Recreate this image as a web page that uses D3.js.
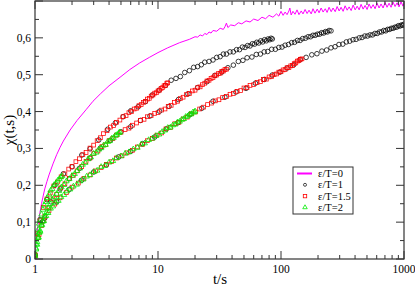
<!DOCTYPE html>
<html>
<head>
<meta charset="utf-8">
<script src="https://cdn.jsdelivr.net/npm/d3@7"></script>
<style>
html, body { margin: 0; padding: 0; background: #fff; }
svg { display: block; }
</style>
</head>
<body>
<svg id="chart" width="415" height="286"></svg>
<script>
// axis setup
var xDomain = [1, 1000];
var yDomain = [0, 0.7];
var xTitle = 't/s';
var yTitle = 'χ(t,s)';
var legendLabels = ['ε/T=0', 'ε/T=1', 'ε/T=1.5', 'ε/T=2'];

// eps/T = 0 (line)
var lineEps0 = [[1.00,0.0],[1.01,0.025],[1.02,0.045],[1.04,0.072],[1.06,0.094],[1.08,0.112],[1.1,0.128],
  [1.13,0.15],[1.16,0.168],[1.2,0.19],[1.25,0.21],[1.3,0.228],[1.4,0.258],[1.5,0.283],[1.6,0.303],
  [1.7,0.32],[1.93,0.35],[2.2,0.376],[2.6,0.405],[2.96,0.428],[3.4,0.448],[4,0.47],[5,0.495],
  [5.9,0.514],[7.1,0.532],[8.5,0.547],[10,0.56],[12,0.573],[15,0.587],[18,0.596],[20,0.603],
  [21,0.602],[22,0.608],[23,0.605],[24,0.612],[25,0.609],[26,0.616],[27,0.613],[28,0.62],[30,0.618],
  [32,0.626],[34,0.623],[35,0.63],[36,0.64],[37,0.628],[39,0.635],[42,0.633],[45,0.641],[48,0.638],
  [52,0.646],[56,0.643],[60,0.651],[65,0.647],[70,0.656],[75,0.652],[80,0.661],[86,0.656],[92,0.665],
  [96,0.659],[100,0.672],[104,0.661],[108,0.67],[112,0.663],[116,0.673],[118,0.681],[121,0.662],
  [125,0.672],[130,0.664],[135,0.676],[140,0.663],[146,0.673],[151,0.665],[157,0.677],[163,0.666],
  [169,0.675],[176,0.665],[182,0.679],[189,0.667],[197,0.678],[204,0.668],[212,0.681],[220,0.67],
  [229,0.679],[237,0.669],[246,0.683],[256,0.671],[265,0.681],[276,0.671],[286,0.685],[297,0.673],
  [308,0.683],[320,0.672],[332,0.687],[345,0.675],[358,0.684],[372,0.674],[386,0.689],[401,0.676],
  [416,0.686],[432,0.676],[448,0.691],[465,0.678],[483,0.688],[501,0.677],[520,0.692],[540,0.68],
  [561,0.69],[582,0.679],[604,0.694],[627,0.681],[651,0.692],[676,0.681],[702,0.696],[728,0.683],
  [756,0.694],[785,0.683],[815,0.697],[846,0.685],[878,0.695],[911,0.684],[946,0.698],[982,0.686],
  [1000,0.695]];

// eps/T = 1 (circles), three runs
var circlesA = [[1.0,0.012],[1.1,0.107],[1.25,0.161],[1.45,0.2],[1.7,0.231],[2.0,0.25],[2.4,0.282],
  [2.8,0.299],[3.3,0.323],[3.9,0.352],[4.5,0.369],[5.2,0.386],[6.0,0.402],[6.9,0.413],[7.9,0.427],
  [9,0.445],[10.2,0.458],[11.5,0.471],[12.8,0.485],[14,0.49],[15.2,0.495],[16.5,0.506],[18,0.511],
  [19.5,0.52],[21,0.522],[22.5,0.527],[24,0.534],[26,0.536],[28,0.54],[30,0.547],[32,0.549],
  [34,0.556],[36,0.556],[38.5,0.562],[41,0.562],[43.5,0.568],[46,0.568],[48.5,0.575],[51,0.574],
  [53.5,0.579],[56,0.578],[58.5,0.584],[61,0.583],[63.5,0.588],[66,0.586],[68.5,0.592],[71,0.589],
  [73.5,0.595],[76,0.592],[78.5,0.597],[81,0.595],[83,0.599],[85,0.597]];
var circlesB = [[1.0,0.01],[1.15,0.101],[1.35,0.155],[1.6,0.19],[1.9,0.218],[2.3,0.246],[2.8,0.274],
  [3.4,0.301],[4.1,0.322],[5,0.345],[6,0.359],[7.2,0.376],[8.6,0.388],[10.3,0.401],[12.3,0.414],
  [14.7,0.433],[17.5,0.448],[21,0.465],[25,0.481],[29,0.498],[33,0.507],[37,0.519],[41,0.526],
  [45,0.536],[49,0.539],[53,0.546],[58,0.548],[63,0.555],[68,0.556],[73,0.562],[78,0.563],[84,0.569],
  [90,0.569],[96,0.574],[102,0.575],[108,0.58],[115,0.582],[122,0.587],[129,0.588],[136,0.593],
  [143,0.593],[150,0.598],[158,0.599],[166,0.603],[174,0.603],[182,0.607],[190,0.607],[198,0.61],
  [206,0.61],[214,0.614],[222,0.613],[230,0.617],[238,0.616],[246,0.62],[255,0.619]];
var circlesC = [[1.0,0.008],[1.2,0.111],[1.5,0.155],[1.9,0.189],[2.4,0.214],[3.0,0.236],[3.8,0.255],
  [4.8,0.277],[6,0.292],[7.5,0.313],[9.4,0.331],[11.7,0.353],[14.6,0.37],[18.2,0.392],[22.7,0.409],
  [28,0.428],[35,0.439],[43,0.453],[52,0.463],[62,0.477],[73,0.487],[85,0.499],[98,0.507],[112,0.518],
  [127,0.527],[143,0.541],[160,0.547],[178,0.554],[196,0.557],[215,0.564],[235,0.567],[255,0.573],
  [275,0.576],[296,0.582],[318,0.583],[340,0.589],[362,0.591],[385,0.595],[408,0.596],[432,0.6],
  [456,0.601],[480,0.605],[505,0.605],[530,0.608],[555,0.608],[580,0.612],[606,0.612],[632,0.616],
  [658,0.616],[684,0.62],[710,0.619],[737,0.623],[764,0.623],[791,0.626],[818,0.626],[845,0.629],
  [872,0.629],[900,0.633],[927,0.632],[954,0.635],[980,0.634],[1000,0.637]];

// eps/T = 1.5 (squares), three runs
var squaresA = [[1.0,0.012],[1.05,0.07],[1.1,0.104],[1.17,0.14],[1.25,0.163],[1.33,0.179],[1.42,0.198],
  [1.52,0.209],[1.63,0.223],[1.75,0.231],[1.88,0.244],[2.0,0.251],[2.15,0.264],[2.3,0.272],[2.45,0.283],
  [2.6,0.289],[2.8,0.301],[3.0,0.309],[3.2,0.321],[3.4,0.329],[3.6,0.34],[3.85,0.348],[4.1,0.358],
  [4.35,0.362],[4.6,0.371],[4.9,0.377],[5.2,0.386],[5.5,0.389],[5.8,0.397],[6.1,0.4],[6.4,0.407],
  [6.7,0.409],[7.0,0.416],[7.3,0.419],[7.6,0.425],[7.9,0.428],[8.2,0.434],[8.5,0.436],[8.8,0.442],
  [9.1,0.445],[9.4,0.45],[9.7,0.451],[10,0.456],[10.3,0.458],[10.6,0.463],[10.9,0.465],[11.2,0.47],
  [11.5,0.471],[11.8,0.477],[12,0.478]];
var squaresB = [[1.0,0.01],[1.06,0.058],[1.13,0.091],[1.2,0.116],[1.3,0.139],[1.4,0.163],[1.5,0.175],
  [1.62,0.193],[1.75,0.204],[1.9,0.219],[2.05,0.227],[2.2,0.239],[2.4,0.251],[2.6,0.265],[2.8,0.274],
  [3.0,0.286],[3.25,0.293],[3.5,0.305],[3.75,0.31],[4.0,0.321],[4.3,0.327],[4.6,0.336],[5.0,0.344],
  [5.4,0.351],[5.8,0.355],[6.2,0.363],[6.7,0.369],[7.2,0.376],[7.7,0.379],[8.2,0.386],[8.8,0.389],
  [9.4,0.395],[10,0.397],[10.7,0.404],[11.4,0.407],[12.1,0.414],[12.8,0.417],[13.6,0.425],[14.4,0.428],
  [15.2,0.435],[16,0.439],[17,0.446],[18,0.449],[19,0.456],[20,0.458],[21,0.465],[22,0.467],[23,0.473],
  [24,0.477],[25,0.483],[26,0.485],[27,0.49],[28,0.492],[29,0.497],[30,0.499],[31,0.503],[32,0.504],
  [33,0.509],[34,0.51],[35,0.514],[36,0.515]];
var squaresC = [[1.0,0.008],[1.08,0.066],[1.18,0.104],[1.3,0.131],[1.45,0.149],[1.6,0.166],[1.8,0.18],
  [2.0,0.195],[2.25,0.206],[2.5,0.219],[2.8,0.228],[3.1,0.239],[3.45,0.248],[3.8,0.257],[4.2,0.264],
  [4.6,0.274],[5.1,0.28],[5.6,0.288],[6.2,0.295],[6.8,0.304],[7.5,0.311],[8.2,0.321],[9,0.327],
  [9.8,0.336],[10.7,0.342],[11.6,0.353],[12.6,0.357],[13.7,0.367],[14.8,0.371],[16,0.38],[17.3,0.385],
  [18.7,0.394],[20.2,0.399],[21.8,0.407],[23.5,0.412],[25.3,0.419],[27.2,0.423],[29.2,0.429],
  [31.3,0.432],[33.5,0.438],[36,0.441],[38.5,0.447],[41,0.449],[44,0.455],[47,0.457],[50,0.464],
  [53,0.465],[56,0.471],[60,0.473],[64,0.479],[68,0.481],[72,0.487],[76,0.488],[80,0.494],[84,0.495],
  [88,0.5],[92,0.502],[96,0.507],[100,0.508],[104,0.513],[108,0.514],[112,0.519],[116,0.519],
  [120,0.524],[124,0.525],[128,0.53],[132,0.532],[136,0.537],[140,0.538],[144,0.542],[148,0.543]];

// eps/T = 2 (triangles), three runs
var trianglesA = [[1.0,0.015],[1.02,0.04],[1.04,0.064],[1.06,0.08],[1.08,0.096],[1.10,0.105],
  [1.13,0.121],[1.16,0.134],[1.19,0.146],[1.22,0.155],[1.26,0.166],[1.30,0.175],[1.34,0.186],
  [1.38,0.19],[1.43,0.201],[1.48,0.205],[1.53,0.213],[1.58,0.217],[1.62,0.222],[1.66,0.225]];
var trianglesB = [[1.0,0.01],[1.02,0.029],[1.04,0.046],[1.06,0.057],[1.08,0.071],[1.1,0.077],[1.13,0.091],
  [1.16,0.102],[1.2,0.116],[1.24,0.126],[1.28,0.138],[1.33,0.149],[1.38,0.161],[1.44,0.168],
  [1.5,0.177],[1.57,0.185],[1.64,0.195],[1.72,0.201],[1.8,0.211],[1.9,0.217],[2.0,0.226],[2.1,0.231],
  [2.2,0.239],[2.32,0.246],[2.44,0.256],[2.56,0.261],[2.7,0.271],[2.84,0.276],[3.0,0.286],[3.15,0.289],
  [3.3,0.297],[3.45,0.301],[3.6,0.308],[3.75,0.31],[3.9,0.318],[4.05,0.32],[4.2,0.327],[4.35,0.329],
  [4.5,0.335],[4.65,0.337],[4.8,0.342],[4.9,0.344]];
var trianglesC = [[1.0,0.008],[1.02,0.026],[1.04,0.039],[1.07,0.059],[1.1,0.074],[1.14,0.093],
  [1.18,0.103],[1.23,0.117],[1.28,0.125],[1.34,0.137],[1.4,0.143],[1.47,0.153],[1.55,0.158],[1.63,0.168],
  [1.72,0.174],[1.82,0.184],[1.93,0.189],[2.05,0.197],[2.18,0.202],[2.32,0.211],[2.47,0.216],
  [2.63,0.224],[2.8,0.228],[3.0,0.236],[3.2,0.24],[3.45,0.25],[3.7,0.253],[4.0,0.262],[4.3,0.266],
  [4.6,0.274],[5.0,0.279],[5.4,0.286],[5.8,0.29],[6.3,0.298],[6.8,0.302],[7.3,0.311],[7.8,0.314],
  [8.4,0.323],[9.0,0.327],[9.6,0.334],[10.2,0.338],[10.8,0.345],[11.4,0.349],[12,0.356],[12.6,0.357],
  [13.2,0.363],[13.8,0.365],[14.4,0.371],[15,0.373],[15.6,0.378],[16.2,0.38],[16.8,0.386],
  [17.4,0.387],[18,0.392],[18.6,0.393],[19.2,0.398],[19.7,0.398],[20,0.401]];

var svg = d3.select('#chart');
var plotLeft = 35, plotRight = 404, plotTop = 1, plotBottom = 259;
var serif = "'Liberation Serif', 'Times New Roman', Times, 'DejaVu Serif', serif";

var x = d3.scaleLog().domain(xDomain).range([plotLeft, plotRight]);
var y = d3.scaleLinear().domain(yDomain).range([plotBottom, plotTop]);

var axisColor = '#333';
var comma = d3.formatLocale({decimal: ',', thousands: '.', grouping: [3], currency: ['', '']}).format('.1f');

// clip for data
svg.append('clipPath').attr('id', 'plot-clip')
  .append('rect').attr('x', plotLeft).attr('y', plotTop)
  .attr('width', plotRight - plotLeft).attr('height', plotBottom - plotTop);

var plot = svg.append('g').attr('clip-path', 'url(#plot-clip)');

// eps/T=0 line
plot.append('path')
  .datum(lineEps0)
  .attr('fill', 'none')
  .attr('stroke', '#ff00ff')
  .attr('stroke-width', 1)
  .attr('d', d3.line().x(function(d) { return x(d[0]); }).y(function(d) { return y(d[1]); }));

// markers
function drawCircles(data) {
  plot.append('g').selectAll('circle').data(data).enter().append('circle')
    .attr('cx', function(d) { return x(d[0]); })
    .attr('cy', function(d) { return y(d[1]); })
    .attr('r', 2.3)
    .attr('fill', 'none')
    .attr('stroke', '#000')
    .attr('stroke-width', 0.75);
}
function drawSquares(data) {
  plot.append('g').selectAll('rect').data(data).enter().append('rect')
    .attr('x', function(d) { return x(d[0]) - 1.9; })
    .attr('y', function(d) { return y(d[1]) - 1.9; })
    .attr('width', 3.8).attr('height', 3.8)
    .attr('fill', 'none')
    .attr('stroke', '#ff0000')
    .attr('stroke-width', 0.75);
}
var tri = d3.symbol().type(d3.symbolTriangle).size(13);
function drawTriangles(data) {
  plot.append('g').selectAll('path').data(data).enter().append('path')
    .attr('transform', function(d) { return 'translate(' + x(d[0]) + ',' + y(d[1]) + ')'; })
    .attr('d', tri)
    .attr('fill', 'none')
    .attr('stroke', '#00ee00')
    .attr('stroke-width', 0.8);
}

[circlesA, circlesB, circlesC].forEach(drawCircles);
[squaresA, squaresB, squaresC].forEach(drawSquares);
[trianglesA, trianglesB, trianglesC].forEach(drawTriangles);

// frame
svg.append('rect')
  .attr('x', plotLeft).attr('y', plotTop)
  .attr('width', plotRight - plotLeft).attr('height', plotBottom - plotTop)
  .attr('fill', 'none').attr('stroke', axisColor).attr('stroke-width', 1.2);

var ticks = svg.append('g').attr('stroke', axisColor).attr('stroke-width', 1);

// x ticks (bottom and top)
x.ticks().forEach(function(t) {
  var major = Math.abs(Math.log10(t) - Math.round(Math.log10(t))) < 1e-9;
  var len = major ? 8 : 4;
  ticks.append('line').attr('x1', x(t)).attr('x2', x(t)).attr('y1', plotBottom).attr('y2', plotBottom - len);
  ticks.append('line').attr('x1', x(t)).attr('x2', x(t)).attr('y1', plotTop).attr('y2', plotTop + len);
  if (major) {
    svg.append('text').attr('x', x(t)).attr('y', 273)
      .attr('text-anchor', 'middle').attr('font-family', serif).attr('font-size', 11.5).attr('fill', '#000')
      .text(d3.format('d')(t));
  }
});

// y ticks (left and right)
y.ticks(14).forEach(function(v) {
  var major = Math.abs(v * 10 - Math.round(v * 10)) < 1e-6;
  var len = major ? 8 : 4;
  ticks.append('line').attr('x1', plotLeft).attr('x2', plotLeft + len).attr('y1', y(v)).attr('y2', y(v));
  ticks.append('line').attr('x1', plotRight).attr('x2', plotRight - len).attr('y1', y(v)).attr('y2', y(v));
  if (major && v < 0.65) {
    svg.append('text').attr('x', 31).attr('y', y(v) + 4)
      .attr('text-anchor', 'end').attr('font-family', serif).attr('font-size', 11.5).attr('fill', '#000')
      .text(v === 0 ? '0' : comma(v));
  }
});

// axis titles
svg.append('text').attr('x', 220).attr('y', 284)
  .attr('text-anchor', 'middle').attr('font-family', serif).attr('font-size', 15).attr('fill', '#000')
  .text(xTitle);
svg.append('text').attr('transform', 'translate(14,130) rotate(-90)')
  .attr('text-anchor', 'middle').attr('font-family', serif).attr('font-size', 15).attr('fill', '#000')
  .text(yTitle);

// legend
var lg = svg.append('g').attr('transform', 'translate(293,167)');
lg.append('rect').attr('width', 60).attr('height', 47)
  .attr('fill', '#fff').attr('stroke', axisColor).attr('stroke-width', 1);
var rowY = function(i) { return 6.5 + i * 11.3; };
lg.append('line').attr('x1', 4).attr('x2', 19).attr('y1', rowY(0)).attr('y2', rowY(0))
  .attr('stroke', '#ff00ff').attr('stroke-width', 2);
lg.append('circle').attr('cx', 12).attr('cy', rowY(1)).attr('r', 1.5)
  .attr('fill', 'none').attr('stroke', '#000').attr('stroke-width', 0.7);
lg.append('rect').attr('x', 10.3).attr('y', rowY(2) - 1.7).attr('width', 3.4).attr('height', 3.4)
  .attr('fill', 'none').attr('stroke', '#ff0000').attr('stroke-width', 0.8);
lg.append('path').attr('transform', 'translate(12,' + rowY(3) + ')')
  .attr('d', d3.symbol().type(d3.symbolTriangle).size(9))
  .attr('fill', 'none').attr('stroke', '#00ee00').attr('stroke-width', 0.8);
legendLabels.forEach(function(label, i) {
  lg.append('text').attr('x', 25).attr('y', rowY(i) + 3.6)
    .attr('font-family', serif).attr('font-size', 10.5).attr('fill', '#000').text(label);
});
</script>
</body>
</html>
